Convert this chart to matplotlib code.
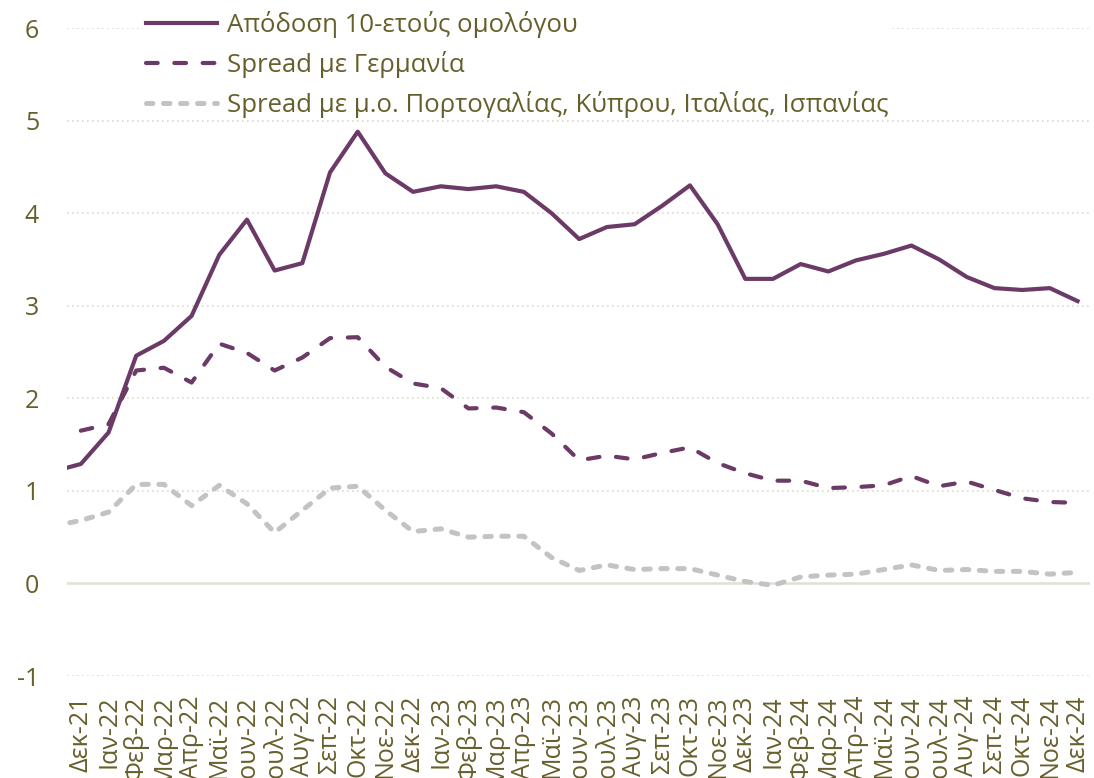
import numpy as np
import matplotlib
matplotlib.use("Agg")
import matplotlib.pyplot as plt

plt.rcParams['font.family'] = ['Open Sans', 'DejaVu Sans']
plt.rcParams['axes.unicode_minus'] = False

# Νοε-21 είναι εκτός ορίων του άξονα (φαίνεται μόνο το κομμάτι της γραμμής)
months = ["Νοε-21", "Δεκ-21", "Ιαν-22", "Φεβ-22", "Μαρ-22", "Απρ-22", "Μαϊ-22", "Ιουν-22",
          "Ιουλ-22", "Αυγ-22", "Σεπ-22", "Οκτ-22", "Νοε-22", "Δεκ-22",
          "Ιαν-23", "Φεβ-23", "Μαρ-23", "Απρ-23", "Μαϊ-23", "Ιουν-23",
          "Ιουλ-23", "Αυγ-23", "Σεπ-23", "Οκτ-23", "Νοε-23", "Δεκ-23",
          "Ιαν-24", "Φεβ-24", "Μαρ-24", "Απρ-24", "Μαϊ-24", "Ιουν-24",
          "Ιουλ-24", "Αυγ-24", "Σεπ-24", "Οκτ-24", "Νοε-24", "Δεκ-24"]

yield10 = [1.21, 1.29, 1.63, 2.46, 2.62, 2.89, 3.55, 3.93, 3.38, 3.46, 4.44, 4.88, 4.43, 4.23,
           4.29, 4.26, 4.29, 4.23, 4.00, 3.72, 3.85, 3.88, 4.08, 4.30, 3.88, 3.29,
           3.29, 3.45, 3.37, 3.49, 3.56, 3.65, 3.50, 3.31, 3.19, 3.17, 3.19, 3.05]

spread_de = [np.nan, 1.65, 1.72, 2.30, 2.33, 2.17, 2.59, 2.49, 2.30, 2.44, 2.65, 2.66, 2.34, 2.16,
             2.11, 1.89, 1.90, 1.85, 1.62, 1.33, 1.38, 1.34, 1.41, 1.47, 1.30, 1.19,
             1.11, 1.11, 1.03, 1.04, 1.06, 1.16, 1.05, 1.10, 1.01, 0.92, 0.88, 0.87]

spread_south = [0.62, 0.68, 0.77, 1.07, 1.07, 0.84, 1.06, 0.86, 0.55, 0.79, 1.03, 1.05, 0.79, 0.56,
                0.59, 0.50, 0.51, 0.51, 0.28, 0.14, 0.20, 0.15, 0.16, 0.16, 0.09, 0.02,
                -0.02, 0.07, 0.09, 0.10, 0.15, 0.20, 0.14, 0.15, 0.13, 0.13, 0.10, 0.12]

txt = '#675F2B'
purple = '#6B3A66'
grey = '#C3C3C3'

fig = plt.figure(figsize=(10.94, 7.78), dpi=100)
ax = fig.add_axes([67/1094, 1 - 676/778, (1090 - 67)/1094, (676 - 28)/778])

x = np.arange(len(months))

ax.plot(x, yield10, color=purple, lw=3.0, label="Απόδοση 10-ετούς ομολόγου", zorder=4)
ax.plot(x, spread_de, color=purple, lw=3.0, dashes=(2.8, 4.0), dash_capstyle='round',
        label="Spread με Γερμανία", zorder=3)
ax.plot(x, spread_south, color=grey, lw=3.6, dashes=(1.3, 2.1), dash_capstyle='round',
        label="Spread με μ.ο. Πορτογαλίας, Κύπρου, Ιταλίας, Ισπανίας", zorder=2)

ax.set_xlim(0.5, len(months) - 0.55)
ax.set_ylim(-1, 6)
ax.set_yticks(range(-1, 7))
for v in range(-1, 7):
    if v == 0:
        ax.axhline(v, color='#E3E0D3', lw=1.8, zorder=1)
    else:
        ax.axhline(v, color='#DCDACB', lw=1.2, ls=(0, (1, 2)), zorder=1)

ax.set_xticks(x[1:])
ax.set_xticklabels(months[1:], rotation=90)
ax.tick_params(axis='x', length=0, pad=14, labelsize=18, labelcolor=txt)
ax.tick_params(axis='y', length=0, pad=20, labelsize=18, labelcolor=txt)
for s in ax.spines.values():
    s.set_visible(False)

leg = ax.legend(loc='upper left', bbox_to_anchor=(0.062, 1.05), frameon=True, framealpha=1,
                edgecolor='none', fontsize=18.5, handlelength=2.75, handletextpad=0.4,
                labelspacing=0.5, borderpad=0.1)
for t in leg.get_texts():
    t.set_color(txt)

fig.savefig("out.png", dpi=100)
